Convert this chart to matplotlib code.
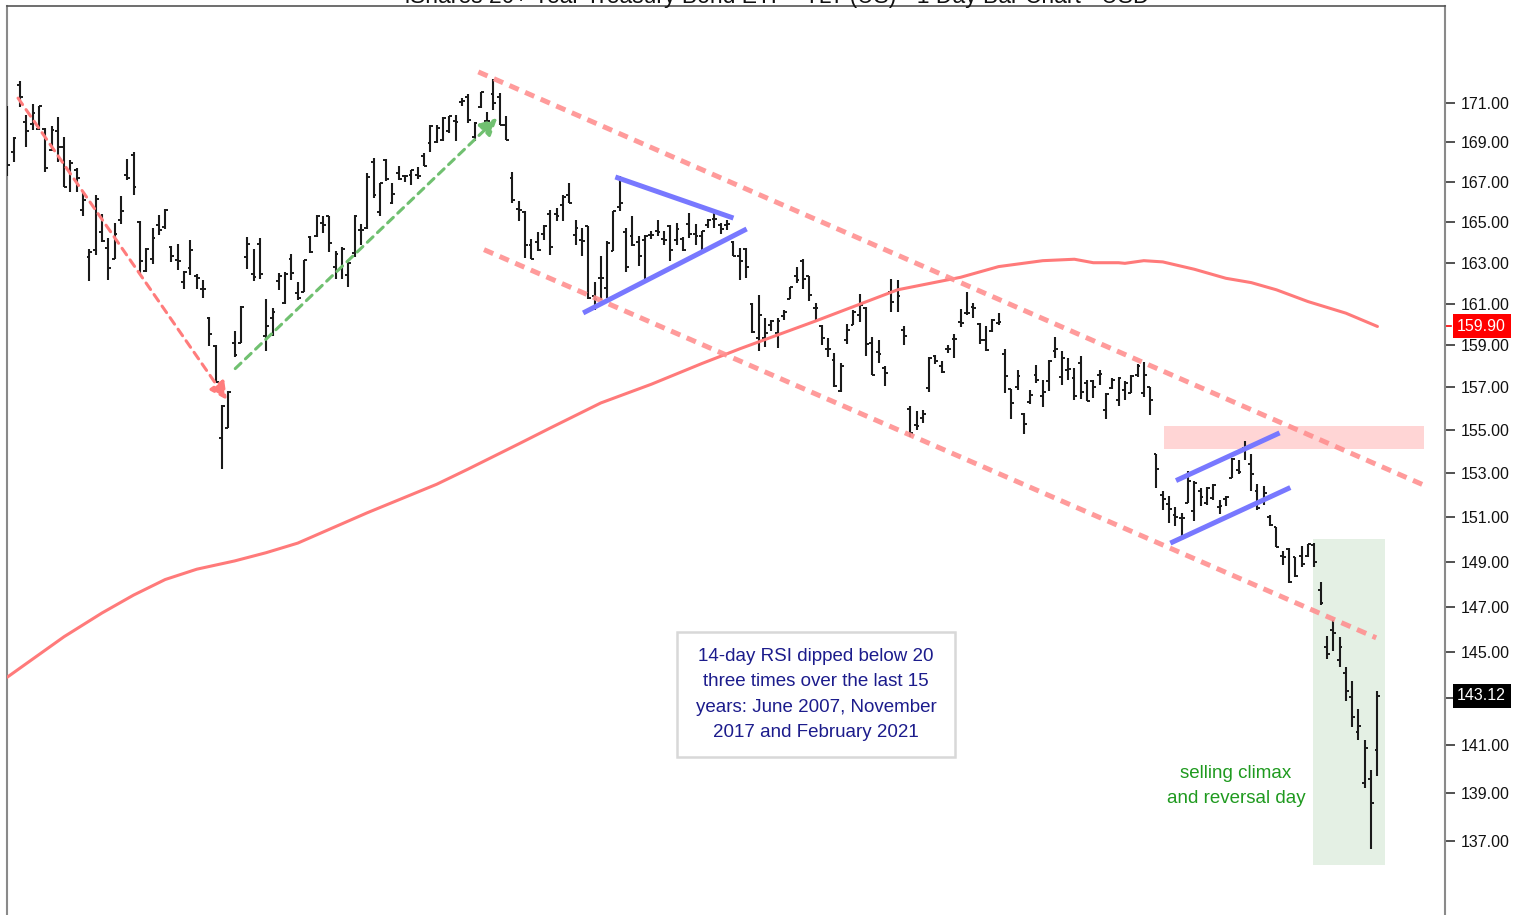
import matplotlib
matplotlib.use("Agg")
import matplotlib.pyplot as plt
import matplotlib.transforms as mtransforms
from matplotlib.patches import Rectangle
from matplotlib.ticker import FixedLocator, FuncFormatter, NullLocator
import numpy as np

plt.rcParams['font.family'] = ['Liberation Sans', 'DejaVu Sans']

title = "iShares 20+ Year Treasury Bond ETF - TLT (US) - 1 Day Bar Chart - USD"

opens = [169.83,168.48,171.94,170.02,169.92,169.67,169.68,168.59,169.57,168.76,
         167.49,167.61,165.60,163.28,163.59,164.52,163.70,163.18,165.11,167.36,
         168.33,165.01,162.57,163.19,164.86,164.75,163.75,163.10,162.05,162.74,
         162.32,161.72,160.31,158.98,154.65,155.10,159.11,159.11,163.28,162.44,
         163.93,159.43,160.31,162.08,161.02,163.19,161.51,161.56,164.26,164.29,
         164.93,165.27,162.79,162.75,162.37,163.47,164.58,164.68,168.00,165.47,
         168.11,165.93,167.44,167.27,167.36,167.32,168.28,168.96,169.01,169.13,
         169.58,170.05,171.06,171.32,169.26,170.81,170.09,171.44,171.32,169.88,
         167.20,165.63,165.50,163.85,163.99,164.39,165.39,165.39,165.84,166.34,
         164.37,164.09,164.81,161.37,162.24,161.75,163.55,165.76,164.48,164.29,
         164.01,164.12,164.37,164.53,164.16,164.81,164.11,164.16,164.91,164.41,
         164.29,164.86,165.14,164.86,164.85,163.99,163.31,163.67,160.99,159.33,
         159.33,159.99,159.59,160.42,161.21,162.32,163.05,162.36,160.81,159.91,
         158.84,158.32,156.84,159.27,159.99,160.46,160.78,159.11,158.67,157.91,
         161.58,161.67,159.75,155.98,155.25,155.56,156.97,158.48,157.99,158.84,
         159.30,160.10,160.55,160.86,160.04,159.27,159.67,160.07,158.59,156.91,
         157.00,155.76,156.33,157.60,156.61,157.28,158.71,157.51,157.84,157.44,
         158.16,157.20,157.28,157.60,155.95,156.96,156.41,156.89,156.73,157.60,
         156.73,157.00,153.90,152.00,151.60,151.11,150.96,151.66,151.30,152.19,
         151.63,151.86,151.45,151.83,152.81,153.16,154.19,153.42,152.19,151.78,
         151.03,150.54,149.25,149.55,149.22,149.25,149.25,149.75,147.73,145.25,
         145.98,144.67,144.09,143.08,141.59,139.41,139.58,140.82]
highs = [170.85,169.26,172.15,170.39,170.93,170.86,169.72,169.83,170.27,169.24,
         168.11,167.67,166.43,163.67,166.36,165.40,164.22,164.95,166.29,168.16,
         168.48,165.04,163.72,164.70,165.35,165.65,163.80,163.93,162.59,164.11,
         162.44,162.13,160.35,159.03,156.16,156.84,159.67,160.89,164.24,163.68,
         164.20,161.24,160.78,162.49,162.52,163.44,162.07,163.10,164.32,165.32,
         165.27,165.30,163.54,163.75,163.04,165.34,164.90,167.44,168.22,166.96,
         168.15,166.93,167.78,167.36,167.61,167.72,168.45,169.88,169.88,170.27,
         170.34,170.39,171.27,171.44,170.00,171.58,170.54,172.24,171.50,170.31,
         167.49,166.06,165.56,164.14,164.48,164.86,165.60,165.68,166.34,166.96,
         165.07,164.70,164.81,162.05,163.31,164.06,165.56,167.28,164.70,165.27,
         164.29,164.37,164.53,165.07,164.53,164.86,164.97,164.24,165.44,164.90,
         164.57,165.14,165.44,164.95,165.11,164.06,163.72,163.72,161.02,161.43,
         160.31,160.23,160.31,160.70,161.83,162.79,163.16,162.36,161.02,159.99,
         159.35,158.64,158.14,160.04,160.70,161.46,160.83,159.38,159.24,157.99,
         162.19,162.13,159.94,156.13,155.87,155.94,158.45,158.54,158.24,159.03,
         159.56,160.74,161.58,161.02,160.07,159.91,160.27,160.57,158.80,156.91,
         157.84,155.79,156.89,158.07,157.36,158.32,159.40,158.71,158.40,157.91,
         158.48,157.36,157.36,157.84,156.73,157.44,157.47,157.28,157.57,158.11,
         158.19,157.00,153.90,152.19,151.97,151.45,151.18,153.09,152.67,152.35,
         152.37,152.51,151.78,151.98,153.70,153.62,154.51,153.90,152.51,152.40,
         151.11,150.54,149.48,149.60,149.22,149.70,149.79,149.82,148.10,145.69,
         146.41,145.65,144.38,143.77,142.54,141.21,139.98,143.31]
lows = [167.30,168.01,170.81,168.76,169.63,169.63,167.47,168.53,168.00,166.73,
        166.48,166.51,165.30,162.10,163.37,163.99,162.13,163.18,164.88,167.07,
        166.34,162.49,162.54,162.95,164.36,164.65,163.01,162.62,161.71,162.41,
        161.71,161.28,158.98,157.25,153.20,155.10,158.45,159.11,162.67,162.10,
        162.19,158.75,159.43,161.67,160.97,162.13,161.18,161.56,163.47,164.26,
        164.45,163.52,162.19,162.21,161.79,163.28,163.86,164.65,166.19,165.30,
        167.05,165.88,167.10,166.98,166.85,167.15,167.78,168.52,168.96,169.04,
        169.47,169.04,170.85,169.97,169.04,170.76,169.94,170.64,169.88,169.13,
        165.93,165.02,163.21,163.18,163.55,164.12,163.36,165.02,165.02,165.93,
        163.88,163.31,161.21,160.70,161.18,161.26,163.55,165.52,162.52,163.80,
        162.82,162.00,164.16,164.29,163.88,163.06,163.88,163.55,164.20,163.88,
        163.55,164.70,164.70,164.42,164.62,163.31,162.13,162.24,159.59,158.71,
        158.93,159.67,158.88,160.19,161.21,162.00,161.71,161.15,160.10,159.03,
        158.45,157.03,156.80,159.08,159.99,160.10,158.51,157.60,158.14,157.06,
        160.59,160.59,158.99,154.66,155.02,155.33,156.77,158.12,157.66,158.64,
        158.40,159.88,160.46,160.31,159.06,158.71,159.62,159.99,156.73,155.52,
        156.89,154.82,156.22,157.23,156.07,156.85,158.40,157.11,157.33,156.41,
        156.44,156.38,156.49,157.13,155.52,156.91,156.15,156.41,156.73,157.48,
        156.57,155.71,152.32,151.33,150.73,150.58,149.98,151.63,150.84,151.51,
        151.56,151.78,151.15,151.51,152.78,152.96,153.62,152.19,151.33,151.56,
        150.61,149.67,148.85,148.04,148.33,148.78,149.22,148.78,147.07,144.70,
        145.04,144.38,142.90,141.77,141.21,139.20,136.69,139.71]
closes = [167.85,169.19,171.32,169.58,170.48,170.85,167.69,169.63,168.76,166.76,
          167.95,167.19,166.09,163.50,166.16,164.04,162.73,164.41,165.55,167.17,
          166.73,163.08,163.68,164.22,164.62,165.58,163.31,163.08,162.52,163.63,
          162.24,161.70,159.56,157.27,156.15,156.77,158.53,160.86,163.92,162.31,
          162.43,159.94,160.59,162.32,162.44,162.49,161.26,163.10,163.50,165.29,
          164.83,163.96,163.44,163.67,162.99,165.30,164.60,167.24,166.34,166.93,
          167.15,166.38,167.15,167.27,167.61,167.31,167.81,169.80,169.72,170.23,
          170.31,170.04,171.11,170.13,169.97,171.55,170.09,171.01,169.88,169.13,
          166.09,165.60,163.88,163.19,163.60,164.81,163.77,165.30,166.22,165.96,
          164.70,164.08,161.26,161.21,162.24,163.95,165.55,165.93,162.79,163.84,
          163.31,164.32,164.37,164.48,164.11,163.63,164.65,163.60,164.42,164.32,
          164.53,165.11,165.14,164.65,164.90,163.31,163.06,162.79,159.62,160.46,
          159.59,160.15,160.18,160.62,161.80,162.15,162.19,161.43,160.78,159.35,
          158.80,157.06,158.03,159.75,160.62,160.94,159.07,157.60,158.60,157.66,
          161.10,161.37,159.46,154.87,155.21,155.76,158.40,158.24,157.75,158.80,
          159.28,160.07,160.53,160.80,159.24,158.76,160.19,160.10,157.52,156.29,
          157.56,155.29,156.63,157.36,156.80,158.27,158.83,158.40,157.86,156.61,
          156.80,156.38,157.04,157.62,156.69,157.36,157.44,157.20,157.52,157.99,
          157.60,156.41,153.20,151.83,151.36,151.03,150.96,152.67,152.55,151.93,
          152.35,152.48,151.50,151.90,153.66,153.08,154.17,152.96,151.43,152.09,
          150.65,149.67,149.22,148.07,148.36,148.88,149.79,149.00,147.14,144.92,
          145.84,145.25,143.31,142.22,141.83,140.89,138.57,143.12]

# 200-day moving average (bar index, value)
ma_idx = [0, 9, 15, 20, 25, 30, 36, 41, 46, 57, 68, 73, 81, 86, 94, 102, 110, 116,
          128, 141, 151, 157, 164, 169, 172, 176, 177, 180, 183, 188, 193, 197, 201,
          206, 212, 217]
ma_val = [143.92, 145.68, 146.72, 147.51, 148.20, 148.66, 149.03, 149.40, 149.83,
          151.20, 152.50, 153.20, 154.36, 155.10, 156.27, 157.15, 158.13, 158.83,
          160.16, 161.67, 162.28, 162.80, 163.09, 163.16, 162.99, 162.99, 162.96,
          163.09, 163.03, 162.67, 162.23, 162.02, 161.67, 161.10, 160.54, 159.90]

yticks = [137, 139, 141, 143, 145, 147, 149, 151, 153, 155, 157, 159, 161, 163,
          165, 167, 169, 171]
hidden_tick = 143
last_ma_label = "159.90"
last_close_label = "143.12"

# analyst drawings (bar index, price)
down_arrow = [(1.7, 171.25), (34.8, 156.41)]
up_arrow = [(36.1, 157.89), (77.6, 170.23)]
channel_upper = [(74.6, 172.6), (224.6, 152.43)]
channel_lower = [(75.5, 163.63), (216.8, 145.63)]
tri_upper = [(96.3, 167.24), (115.0, 165.19)]
tri_lower = [(91.2, 160.55), (117.1, 164.65)]
flag_upper = [(185.1, 152.67), (201.5, 154.87)]
flag_lower = [(184.2, 149.83), (203.2, 152.35)]
resist_zone = (183.2, 224.3, 154.11, 155.19)
climax_zone = (206.8, 218.2, 136.03, 150.02)
note_box = (106.1, 150.1, 140.52, 145.89)
note_text = "14-day RSI dipped below 20\nthree times over the last 15\nyears: June 2007, November\n2017 and February 2021"
climax_text = "selling climax\nand reversal day"

fig = plt.figure(figsize=(15.32, 9.15), dpi=100)
ax = fig.add_axes([7/1532, 0.0, 1438/1532, 909/915])
ax.set_yscale('log')
ax.set_ylim(134.0, 176.05)
ax.set_xlim(-0.05, 227.7)

x = np.arange(len(opens))
tw = 0.45
ax.vlines(x, lows, highs, color='#1a1a1a', lw=1.5, zorder=3)
ax.hlines(opens, x - tw, x, color='#1a1a1a', lw=1.4, zorder=3)
ax.hlines(closes, x, x + tw, color='#1a1a1a', lw=1.4, zorder=3)

ax.plot(ma_idx, ma_val, color='#ff7a7a', lw=2.2, zorder=4, solid_capstyle='round',
        solid_joinstyle='round')

# zones
x0, x1, y0, y1 = resist_zone
ax.add_patch(Rectangle((x0, y0), x1 - x0, y1 - y0, facecolor='#ffd5d5', edgecolor='none', zorder=1))
x0, x1, y0, y1 = climax_zone
ax.add_patch(Rectangle((x0, y0), x1 - x0, y1 - y0, facecolor='#e4f0e4', edgecolor='none', zorder=1))

# channel
for seg in (channel_upper, channel_lower):
    ax.plot([seg[0][0], seg[1][0]], [seg[0][1], seg[1][1]], color='#ff9090',
            lw=3.6, linestyle=(0, (2.0, 1.4)), zorder=5, alpha=0.9)
for seg in (tri_upper, tri_lower, flag_upper, flag_lower):
    ax.plot([seg[0][0], seg[1][0]], [seg[0][1], seg[1][1]], color='#7878ff',
            lw=3.6, zorder=5, solid_capstyle='butt')

ax.annotate('', xy=down_arrow[1], xytext=down_arrow[0],
            arrowprops=dict(arrowstyle='-|>', color='#ff7c7c', lw=2.2,
                            linestyle=(0, (2.6, 2.0)), mutation_scale=26,
                            shrinkA=0, shrinkB=0), zorder=6)
ax.annotate('', xy=up_arrow[1], xytext=up_arrow[0],
            arrowprops=dict(arrowstyle='-|>', color='#70c070', lw=2.2,
                            linestyle=(0, (2.6, 2.0)), mutation_scale=26,
                            shrinkA=0, shrinkB=0), zorder=6)

# note box
x0, x1, y0, y1 = note_box
ax.add_patch(Rectangle((x0, y0), x1 - x0, y1 - y0, facecolor='white',
                       edgecolor='#d8d8d8', lw=1.8, zorder=6))
ax.text((x0 + x1) / 2, np.sqrt(y0 * y1), note_text, ha='center', va='center',
        color='#1c1c8c', fontsize=13.5, linespacing=1.65, zorder=7)
ax.text(194.6, 139.29, climax_text, ha='center', va='center', color='#1f9a1f',
        fontsize=13.5, linespacing=1.65, zorder=7)

# axes styling
ax.spines['bottom'].set_visible(False)
ax.spines['left'].set_color('#8a8a8a')
ax.spines['left'].set_linewidth(1.5)
ax.spines['right'].set_color('#8a8a8a')
ax.spines['right'].set_linewidth(1.5)
ax.spines['top'].set_color('#555555')
ax.spines['top'].set_linewidth(1.2)
ax.xaxis.set_visible(False)
ax.yaxis.tick_right()
ax.yaxis.set_major_locator(FixedLocator(yticks))
ax.yaxis.set_minor_locator(NullLocator())
ax.yaxis.set_major_formatter(FuncFormatter(
    lambda v, p: "" if abs(v - hidden_tick) < 1e-6 else f"{v:.2f}"))
ax.tick_params(axis='y', direction='out', length=7, width=1.2, color='#333333',
               labelsize=11.5, pad=4, labelcolor='#111111')

trans = mtransforms.blended_transform_factory(ax.transAxes, ax.transData)
ax.text(1.0085, float(last_ma_label), last_ma_label, transform=trans, ha='left',
        va='center', color='white', fontsize=11.5, zorder=10, clip_on=False,
        bbox=dict(boxstyle='square,pad=0.28', facecolor='#ff0000', edgecolor='none'))
ax.text(1.0085, float(last_close_label), last_close_label, transform=trans, ha='left',
        va='center', color='white', fontsize=11.5, zorder=10, clip_on=False,
        bbox=dict(boxstyle='square,pad=0.28', facecolor='#000000', edgecolor='none'))
ax.plot([1.0, 1.004], [float(last_ma_label)] * 2, transform=trans, color='red',
        lw=1.2, clip_on=False)

fig.text(777/1532, 1 - 2.5/915, title, ha='center', va='baseline', fontsize=16.5,
         color='#111111')

fig.savefig('out.png', dpi=100)
